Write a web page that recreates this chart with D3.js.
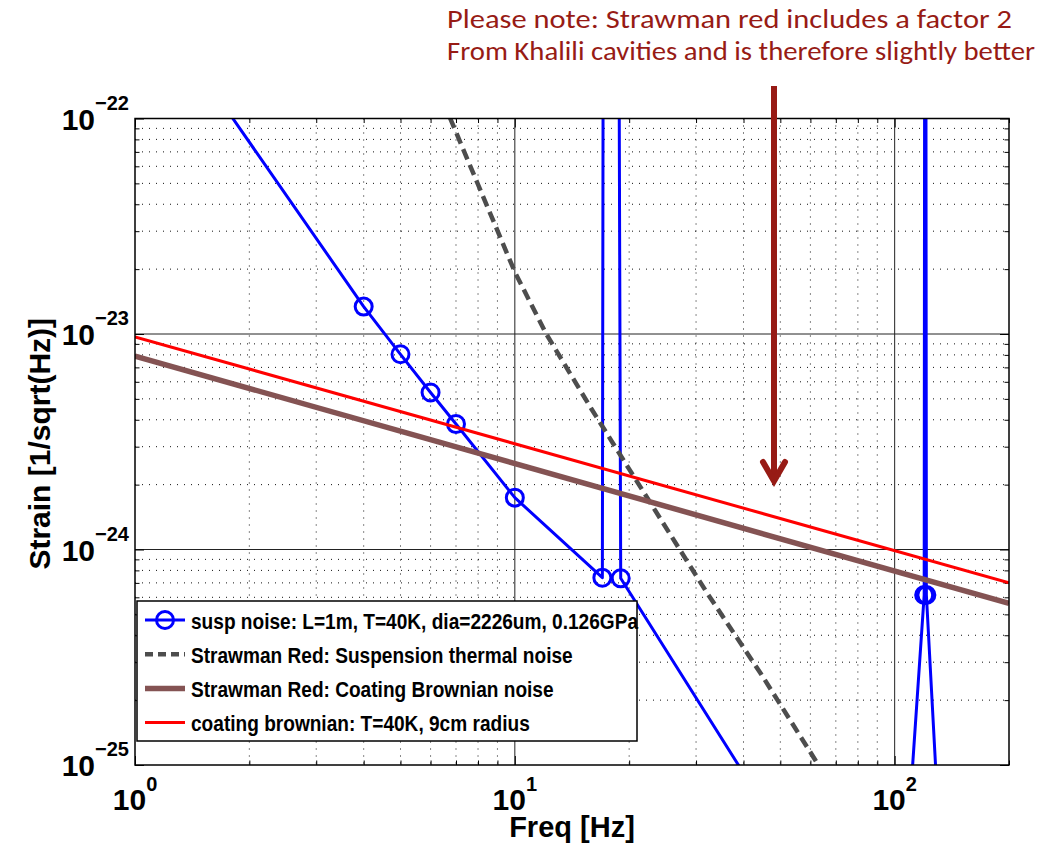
<!DOCTYPE html>
<html>
<head>
<meta charset="utf-8">
<script src="https://cdn.jsdelivr.net/npm/d3@7"></script>
<style>
    body { margin: 0; background: #fff; }
    svg { display: block; }
</style>
</head>
<body>
<div id="noise-chart"></div>
<script>

// axis ticks (decades) and their exponent labels
let freqTicks = [1, 10, 100];
let freqTickExp = ["0", "1", "2"];
let strainTicks = [1e-25, 1e-24, 1e-23, 1e-22];
let strainTickExp = ["\u221225", "\u221224", "\u221223", "\u221222"];

// susp noise, one marker per sample, the spikes are the violin modes
let suspFreq = [1, 4, 5, 6, 7, 10, 17, 17.3, 18.3, 19, 42, 60, 80, 110, 119.6, 120.4, 121.2, 130, 160, 200];
let suspStrain = [4.5e-22, 1.34e-23, 8.05e-24, 5.35e-24, 3.82e-24, 1.74e-24, 7.4e-25, 1e-15, 1e-15, 7.35e-25,
    8e-26, 4e-26, 2.2e-26, 7e-26, 6.15e-25, 1e-18, 6.15e-25, 6.2e-26, 3e-26, 1.5e-26];

// strawman red suspension thermal noise
let thermalFreq = [5, 6.76, 8, 10, 12.1, 15.9, 20, 32.1, 44.4, 61.9, 80];
let thermalStrain = [3.9e-22, 1e-22, 4.94e-23, 1.94e-23, 1e-23, 4.5e-24, 2.36e-24, 6.27e-25, 2.66e-25, 1.05e-25, 5.1e-26];

// coating curves (straight lines on log-log)
let coatingFreq = [1, 200];
let strawmanCoating = [7.9e-24, 5.62e-25];
let coatingBrownian = [9.7e-24, 7.0e-25];

let legendLabels = [
    "susp noise: L=1m, T=40K, dia=2226um, 0.126GPa",
    "Strawman Red: Suspension thermal noise",
    "Strawman Red: Coating Brownian noise",
    "coating brownian: T=40K, 9cm radius"
];

let noteLines = [
    "Please note: Strawman red includes a factor 2",
    "From Khalili cavities and is therefore slightly better"
];

let zip = (xs, ys) => xs.map((f, i) => ({f: f, v: ys[i]}));

let series = [
    {name: legendLabels[0], data: zip(suspFreq, suspStrain), color: "#0000ff", width: 3, dash: null, markers: true},
    {name: legendLabels[1], data: zip(thermalFreq, thermalStrain), color: "#4d4d4d", width: 4.5, dash: "11,6", markers: false},
    {name: legendLabels[2], data: zip(coatingFreq, strawmanCoating), color: "#845353", width: 5.5, dash: null, markers: false},
    {name: legendLabels[3], data: zip(coatingFreq, coatingBrownian), color: "#ff0000", width: 3, dash: null, markers: false}
];

let width = 1059, height = 847;
let plotLeft = 135, plotRight = 1009, plotTop = 118.5, plotBottom = 765;

let svg = d3.select("#noise-chart")
    .append("svg")
    .attr("width", width)
    .attr("height", height);

let x = d3.scaleLog().domain([1, 200]).range([plotLeft, plotRight]);
let y = d3.scaleLog().domain([1e-25, 1e-22]).range([plotBottom, plotTop]);

let isDecade = v => Math.abs(Math.log10(v) - Math.round(Math.log10(v))) < 1e-6;

// grid: solid at decades, dotted in between
let grid = svg.append("g").attr("class", "grid");

grid.selectAll(".gx")
    .data(x.ticks().filter(d => d > 1 && d < 200))
    .enter()
    .append("line")
    .attr("x1", d => x(d)).attr("x2", d => x(d))
    .attr("y1", plotTop).attr("y2", plotBottom)
    .attr("stroke", d => isDecade(d) ? "#222" : "#111")
    .attr("stroke-width", 1)
    .attr("stroke-dasharray", d => isDecade(d) ? null : "1,6");

grid.selectAll(".gy")
    .data(y.ticks().filter(d => d > 1.01e-25 && d < 0.99e-22))
    .enter()
    .append("line")
    .attr("y1", d => y(d)).attr("y2", d => y(d))
    .attr("x1", plotLeft).attr("x2", plotRight)
    .attr("stroke", d => isDecade(d) ? "#222" : "#111")
    .attr("stroke-width", 1)
    .attr("stroke-dasharray", d => isDecade(d) ? null : "1,6");

// ticks on all four sides, pointing inwards
let minorX = x.ticks().filter(d => !isDecade(d));
let minorY = y.ticks().filter(d => !isDecade(d));

function tickAxis(axisFn, scale, values, size, transform) {
    svg.append("g")
        .attr("class", "ticks")
        .attr("transform", transform)
        .call(axisFn(scale).tickValues(values).tickSize(size).tickFormat(""))
        .call(g => g.select(".domain").remove())
        .selectAll("line").attr("stroke", "#000").attr("stroke-width", 1);
}

tickAxis(d3.axisBottom, x, freqTicks, -9, `translate(0,${plotBottom})`);
tickAxis(d3.axisBottom, x, minorX, -4.5, `translate(0,${plotBottom})`);
tickAxis(d3.axisTop, x, freqTicks, -9, `translate(0,${plotTop})`);
tickAxis(d3.axisTop, x, minorX, -4.5, `translate(0,${plotTop})`);
tickAxis(d3.axisLeft, y, strainTicks, -9, `translate(${plotLeft},0)`);
tickAxis(d3.axisLeft, y, minorY, -4.5, `translate(${plotLeft},0)`);
tickAxis(d3.axisRight, y, strainTicks, -9, `translate(${plotRight},0)`);
tickAxis(d3.axisRight, y, minorY, -4.5, `translate(${plotRight},0)`);

// clip the curves to the plot box
svg.append("clipPath")
    .attr("id", "plot-clip")
    .append("rect")
    .attr("x", plotLeft).attr("y", plotTop)
    .attr("width", plotRight - plotLeft).attr("height", plotBottom - plotTop);

let plot = svg.append("g").attr("clip-path", "url(#plot-clip)");

let line = d3.line()
    .x(d => x(d.f))
    .y(d => y(d.v));

series.forEach(s => {
    plot.append("path")
        .datum(s.data)
        .attr("d", line)
        .attr("fill", "none")
        .attr("stroke", s.color)
        .attr("stroke-width", s.width)
        .attr("stroke-dasharray", s.dash)
        .attr("stroke-linejoin", "round");

    if (s.markers) {
        plot.selectAll(null)
            .data(s.data)
            .enter()
            .append("circle")
            .attr("cx", d => x(d.f))
            .attr("cy", d => y(d.v))
            .attr("r", 8.5)
            .attr("fill", "none")
            .attr("stroke", s.color)
            .attr("stroke-width", 3);
    }
});

// box
svg.append("rect")
    .attr("x", plotLeft).attr("y", plotTop)
    .attr("width", plotRight - plotLeft).attr("height", plotBottom - plotTop)
    .attr("fill", "none")
    .attr("stroke", "#000")
    .attr("stroke-width", 1.5);

// tick labels as 10^n
let labelFont = "'Liberation Sans', Arial, Helvetica, sans-serif";

freqTicks.forEach((d, i) => {
    let t = svg.append("text")
        .attr("x", x(d))
        .attr("y", 810)
        .attr("text-anchor", "middle")
        .attr("font-family", labelFont)
        .attr("font-weight", "bold")
        .attr("font-size", "30px");
    t.append("tspan").text("10");
    t.append("tspan").attr("dy", -19).attr("font-size", "20px").text(freqTickExp[i]);
});

strainTicks.forEach((d, i) => {
    let t = svg.append("text")
        .attr("x", 129)
        .attr("y", y(d) + 11)
        .attr("text-anchor", "end")
        .attr("font-family", labelFont)
        .attr("font-weight", "bold")
        .attr("font-size", "30px");
    t.append("tspan").text("10");
    t.append("tspan").attr("dy", -20).attr("font-size", "20px").text(strainTickExp[i]);
});

// axis titles
svg.append("text")
    .attr("x", (plotLeft + plotRight) / 2)
    .attr("y", 837)
    .attr("text-anchor", "middle")
    .attr("font-family", labelFont)
    .attr("font-weight", "bold")
    .attr("font-size", "29px")
    .text("Freq [Hz]");

svg.append("text")
    .attr("transform", `translate(50, ${(plotTop + plotBottom) / 2 + 2}) rotate(-90)`)
    .attr("text-anchor", "middle")
    .attr("font-family", labelFont)
    .attr("font-weight", "bold")
    .attr("font-size", "30px")
    .text("Strain [1/sqrt(Hz)]");

// legend
let legend = svg.append("g").attr("class", "legend");

legend.append("rect")
    .attr("x", 137).attr("y", 601)
    .attr("width", 500).attr("height", 140)
    .attr("fill", "#fff")
    .attr("stroke", "#000")
    .attr("stroke-width", 1.5);

let legendTexts = [];
series.forEach((s, i) => {
    let cy = 620 + i * 34.2;
    legend.append("line")
        .attr("x1", 145).attr("x2", 185)
        .attr("y1", cy).attr("y2", cy)
        .attr("stroke", s.color)
        .attr("stroke-width", s.width)
        .attr("stroke-dasharray", s.dash ? "8,5" : null);
    if (s.markers) {
        legend.append("circle")
            .attr("cx", 165).attr("cy", cy)
            .attr("r", 8.5)
            .attr("fill", "none")
            .attr("stroke", s.color)
            .attr("stroke-width", 3);
    }
    legendTexts.push(legend.append("text")
        .attr("x", 191)
        .attr("y", cy + 8.5)
        .attr("font-family", labelFont)
        .attr("font-weight", "bold")
        .attr("font-size", "22.5px")
        .attr("fill", "#000")
        .text(s.name));
});

// the matlab font is narrower than liberation: squeeze so the first row spans 447px
let squeeze = 447 / legendTexts[0].node().getComputedTextLength();
legendTexts.forEach(t => {
    t.attr("textLength", t.node().getComputedTextLength() * squeeze)
        .attr("lengthAdjust", "spacingAndGlyphs");
});

// annotation above the plot
let noteColor = "#971b15";
let noteWidths = [565, 588];

noteLines.forEach((txt, i) => {
    svg.append("text")
        .attr("x", 447)
        .attr("y", 28 + i * 32)
        .attr("font-family", "Carlito, Calibri, 'Open Sans', sans-serif")
        .attr("font-size", "26px")
        .attr("fill", noteColor)
        .attr("textLength", noteWidths[i])
        .attr("lengthAdjust", "spacingAndGlyphs")
        .text(txt);
});

// arrow pointing down at the coating curves
svg.append("line")
    .attr("x1", 774).attr("x2", 774)
    .attr("y1", 86).attr("y2", 479)
    .attr("stroke", noteColor)
    .attr("stroke-width", 6);

svg.append("polyline")
    .attr("points", "763,462 774,481 785,462")
    .attr("fill", "none")
    .attr("stroke", noteColor)
    .attr("stroke-width", 6)
    .attr("stroke-linecap", "round");

</script>
</body>
</html>
